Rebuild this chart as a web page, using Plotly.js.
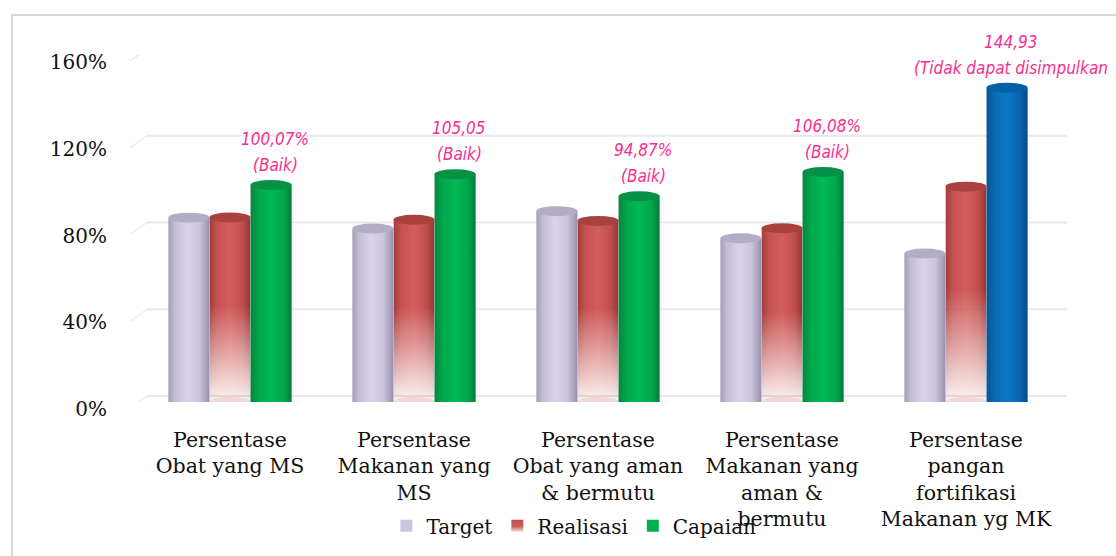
<!DOCTYPE html>
<html>
<head>
<meta charset="utf-8">
<script src="https://cdn.plot.ly/plotly-3.0.1.min.js"></script>
<style>
  html, body { margin: 0; padding: 0; background: #ffffff; overflow: hidden; }
  #frame { position: absolute; left: 11px; top: 14px; width: 2000px; height: 2000px;
           border-left: 2px solid #d9d9d9; border-top: 2px solid #d9d9d9; }
  #chart { position: absolute; left: 0; top: 0; width: 1116px; height: 556px; }
</style>
</head>
<body>
<div id="frame"></div>
<div id="chart"></div>
<script>
// ---------------- data ----------------
const categories = [
  "Persentase<br>Obat yang MS",
  "Persentase<br>Makanan yang<br>MS",
  "Persentase<br>Obat yang aman<br>& bermutu",
  "Persentase<br>Makanan yang<br>aman &<br>bermutu",
  "Persentase<br>pangan<br>fortifikasi<br>Makanan yg MK"
];
const seriesNames = ["Target", "Realisasi", "Capaian"];
const target    = [85, 80, 88, 75.5, 68.5];
const realisasi = [85.1, 84, 83.5, 80.1, 99.3];
const capaian   = [100.07, 105.05, 94.87, 106.08, 144.93];
const capaianLabel = ["100,07%", "105,05", "94,87%", "106,08%", "144,93"];
const statusLabel  = ["(Baik)", "(Baik)", "(Baik)", "(Baik)", "(Tidak dapat disimpulkan"];
const yTicks    = [0, 40, 80, 120, 160];
const yTickText = ["0%", "40%", "80%", "120%", "160%"];

// ---------------- style ----------------
const BARGAP = 0.33;
const W = (1 - BARGAP) / 3;            // bar width in category units
const idx = categories.map((_, i) => i);
const capColors = capaian.map((_, i) => i === 4 ? "#0070c0" : "#00b050");
const serif = "DejaVu Serif, serif";
const hand = "Liberation Sans Narrow, DejaVu Sans Condensed, sans-serif";

const traces = [
  { type: "bar", name: seriesNames[0], x: idx, y: target,    marker: { color: "#ccc4e0" }, hoverinfo: "none" },
  { type: "bar", name: seriesNames[1], x: idx, y: realisasi, marker: { color: "#c0504d" }, hoverinfo: "none" },
  { type: "bar", name: seriesNames[2], x: idx, y: capaian,   marker: { color: capColors }, hoverinfo: "none" }
];

// shapes: back-wall gridlines, left slanted floor edges, cylinder caps
const shapes = [];
const PL = 138, PW = 920;
yTicks.forEach(t => {
  shapes.push({ type: "line", layer: "below", xref: "paper", x0: (147 - PL) / PW, x1: (1067 - PL) / PW,
    yref: "y", ysizemode: "pixel", yanchor: t, y0: 6, y1: 6, line: { color: "#e9e9e9", width: 2 } });
  shapes.push({ type: "line", layer: "below", xref: "paper", xsizemode: "pixel", xanchor: 0, x0: -8, x1: 9,
    yref: "y", ysizemode: "pixel", yanchor: t, y0: -6, y1: 6, line: { color: "#ececec", width: 1.5 } });
});
const seriesVals = [target, realisasi, capaian];
const topCol = [["#b3acc6"], ["#a9423f"], ["#079146", "#079146", "#079146", "#079146", "#0560a8"]];
const botCol = [["#c3bbd6"], ["#f6e6e6"], ["#00a24a", "#00a24a", "#00a24a", "#00a24a", "#0767b2"]];
seriesVals.forEach((vals, s) => {
  vals.forEach((v, i) => {
    const cx = i + (s - 1) * W;
    const tc = topCol[s][Math.min(i, topCol[s].length - 1)];
    const bc = botCol[s][Math.min(i, botCol[s].length - 1)];
    shapes.push({ type: "circle", layer: "between", xref: "x", x0: cx - W / 2, x1: cx + W / 2,
      yref: "y", ysizemode: "pixel", yanchor: 0, y0: -5, y1: 5, fillcolor: bc, line: { width: 0 } });
    shapes.push({ type: "circle", layer: "above", xref: "x", x0: cx - W / 2, x1: cx + W / 2,
      yref: "y", ysizemode: "pixel", yanchor: v, y0: -5, y1: 5, fillcolor: tc, line: { width: 0 } });
  });
});

const annFont = { family: hand, size: 17, color: "#fa2d8c", style: "italic" };
const annotations = [];
capaian.forEach((v, i) => {
  annotations.push({ xref: "x", yref: "y", x: i + W, y: v, xshift: 4, yshift: 20,
    yanchor: "middle", xanchor: "center", showarrow: false, text: statusLabel[i], font: annFont });
  annotations.push({ xref: "x", yref: "y", x: i + W, y: v, xshift: 4, yshift: 46,
    yanchor: "middle", xanchor: "center", showarrow: false, text: capaianLabel[i], font: annFont });
});

const layout = {
  width: 1116, height: 556,
  margin: { l: PL, r: 1116 - PL - PW, t: 55, b: 153 },
  paper_bgcolor: "rgba(0,0,0,0)", plot_bgcolor: "rgba(0,0,0,0)",
  barmode: "group", bargap: BARGAP, bargroupgap: 0,
  showlegend: true,
  legend: { orientation: "h", x: 0.27, xanchor: "left", y: -0.353, yanchor: "middle",
            font: { family: serif, size: 20, color: "#111" }, itemwidth: 30, tracegroupgap: 0 },
  xaxis: { tickmode: "array", tickvals: idx, ticktext: categories, range: [-0.5, 4.5],
           showgrid: false, zeroline: false, showline: false, ticks: "",
           tickfont: { family: serif, size: 20.5, color: "#111" }, ticklabelstandoff: 23 },
  yaxis: { range: [0, 160], tickmode: "array", tickvals: yTicks, ticktext: yTickText,
           showgrid: false, zeroline: false, showline: false, ticks: "",
           tickfont: { family: serif, size: 20, color: "#111" },
           ticklabelstandoff: 30, ticklabelshift: 7 },
  shapes: shapes,
  annotations: annotations
};

function addDefs(gd) {
  const svg = gd.querySelector("svg.main-svg");
  const NS = "http://www.w3.org/2000/svg";
  let defs = svg.querySelector("defs");
  if (!defs) { defs = document.createElementNS(NS, "defs"); svg.insertBefore(defs, svg.firstChild); }
  function grad(id, stops, vertical) {
    const g = document.createElementNS(NS, "linearGradient");
    g.setAttribute("id", id);
    g.setAttribute("x1", "0"); g.setAttribute("y1", "0");
    g.setAttribute("x2", vertical ? "0" : "1"); g.setAttribute("y2", vertical ? "1" : "0");
    stops.forEach(([o, c]) => {
      const st = document.createElementNS(NS, "stop");
      st.setAttribute("offset", o); st.setAttribute("stop-color", c);
      g.appendChild(st);
    });
    defs.appendChild(g);
  }
  grad("gLav", [[0, "#a39bb8"], [0.15, "#c2bbd5"], [0.45, "#d9d3e9"], [0.75, "#ccc5de"], [1, "#9991ad"]]);
  grad("gRed", [[0, "#a23e3e"], [0.2, "#c65351"], [0.5, "#d25d5b"], [0.8, "#c04f4d"], [1, "#953535"]]);
  grad("gGrn", [[0, "#07853e"], [0.2, "#00a84d"], [0.5, "#00b954"], [0.8, "#00a64c"], [1, "#067c39"]]);
  grad("gBlu", [[0, "#0a5494"], [0.2, "#0a6ab5"], [0.5, "#0b76c6"], [0.8, "#0866b0"], [1, "#064b86"]]);
  grad("vFade", [[0, "#ffffff"], [0.48, "#ffffff"], [1, "#121212"]], true);
  grad("legRed", [[0, "#c0504d"], [0.55, "#c9605d"], [1, "#f7e2e2"]], true);
  const m = document.createElementNS(NS, "mask");
  m.setAttribute("id", "fadeMask");
  m.setAttribute("maskContentUnits", "objectBoundingBox");
  const r = document.createElementNS(NS, "rect");
  r.setAttribute("x", "0"); r.setAttribute("y", "0"); r.setAttribute("width", "1"); r.setAttribute("height", "1");
  r.setAttribute("fill", "url(#vFade)");
  m.appendChild(r);
  defs.appendChild(m);

  const barTraces = gd.querySelectorAll(".barlayer .trace");
  barTraces.forEach((tr, s) => {
    tr.querySelectorAll(".point path").forEach((p, i) => {
      let f = s === 0 ? "url(#gLav)" : s === 1 ? "url(#gRed)" : (i === 4 ? "url(#gBlu)" : "url(#gGrn)");
      p.style.fill = f;
      if (s === 1) p.setAttribute("mask", "url(#fadeMask)");
    });
  });
  const leg = gd.querySelectorAll(".legend .traces");
  leg.forEach((t, s) => {
    t.querySelectorAll(".legendpoints path").forEach(p => {
      if (s === 1) p.style.fill = "url(#legRed)";
      if (s === 2) p.style.fill = "#00b050";
      p.style.stroke = "none";
    });
  });
}

Plotly.newPlot("chart", traces, layout, { staticPlot: true, displayModeBar: false })
  .then(gd => addDefs(gd));
</script>
</body>
</html>
